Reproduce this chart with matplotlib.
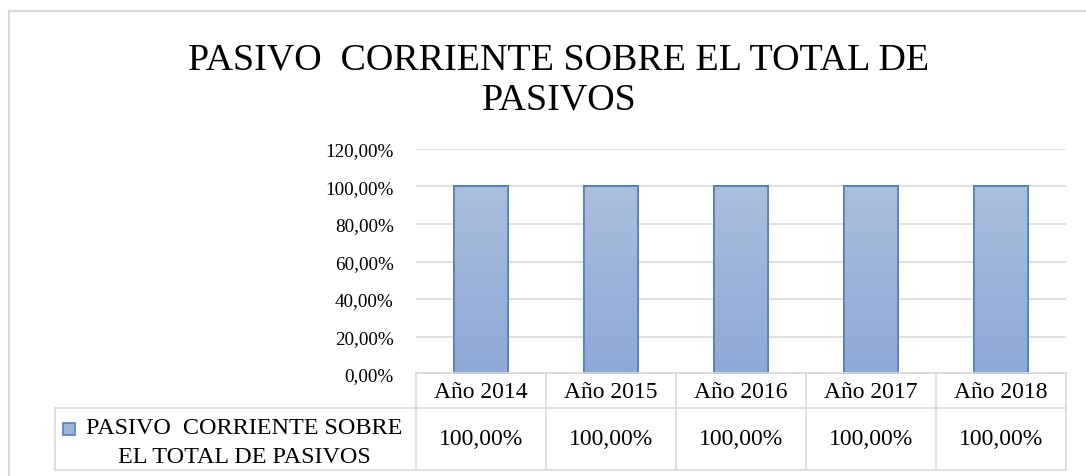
import numpy as np
import matplotlib
matplotlib.use("Agg")
import matplotlib.pyplot as plt
from matplotlib.patches import Rectangle
from matplotlib.lines import Line2D
from matplotlib.colors import LinearSegmentedColormap

# Data
categories = ['Año 2014', 'Año 2015', 'Año 2016', 'Año 2017', 'Año 2018']
values = [100.0, 100.0, 100.0, 100.0, 100.0]
series_name = 'PASIVO  CORRIENTE SOBRE\nEL TOTAL DE PASIVOS'
title = 'PASIVO  CORRIENTE SOBRE EL TOTAL DE\nPASIVOS'
yticks = [0, 20, 40, 60, 80, 100, 120]

plt.rcParams['font.family'] = ['Liberation Serif', 'DejaVu Serif']

W, H = 1086, 477
fig = plt.figure(figsize=(W / 100, H / 100), dpi=100)

def fx(px):
    return px / W

def fy(py):
    return 1 - py / H

grid_col = '#D9D9D9'

# plot area
left, right, top, bottom = 416, 1066, 150, 375
ax = fig.add_axes([fx(left), fy(bottom), fx(right) - fx(left), fy(top) - fy(bottom)])
x = np.arange(len(categories))
bars = ax.bar(x, values, width=0.41, facecolor='#9DB3D8', edgecolor='#4F81BD', linewidth=1.2, zorder=3)

# vertical gradient on bars
grad = np.linspace(0, 1, 256).reshape(-1, 1)
cmap = LinearSegmentedColormap.from_list('g', ['#8EA9D6', '#AABEDD'])
for b in bars:
    im = ax.imshow(grad, cmap=cmap, aspect='auto', origin='lower',
                   extent=[b.get_x(), b.get_x() + b.get_width(), 0, b.get_height()], zorder=3.5)
    im.set_clip_path(b)
    edge = Rectangle((b.get_x(), 0), b.get_width(), b.get_height(), fill=False,
                     edgecolor='#4F81BD', linewidth=1.2, zorder=4)
    ax.add_patch(edge)

ax.set_xlim(-0.5, len(categories) - 0.5)
ax.set_ylim(0, 120)
ax.set_yticks(yticks)
ax.set_yticklabels([f'{v:.2f}%'.replace('.', ',') for v in yticks], fontsize=13.8)
ax.tick_params(axis='y', length=0, pad=16)
ax.set_xticks([])
ax.yaxis.grid(True, color=grid_col, linewidth=1.2, zorder=0)
ax.set_axisbelow(True)
for s in ax.spines.values():
    s.set_visible(False)

# overlay axes in pixel coords for title, frame and data table
ov = fig.add_axes([0, 0, 1, 1], facecolor='none')
ov.set_xlim(0, W)
ov.set_ylim(H, 0)
ov.axis('off')

# chart frame (cut off at right and bottom)
ov.add_line(Line2D([9, 9], [12, H], color=grid_col, lw=1.5))
ov.add_line(Line2D([9, W], [12, 12], color=grid_col, lw=1.5))

ov.text(559, 80, title, ha='center', va='center', fontsize=27.4, linespacing=1.2)

# data table
col_w = (right - left) / len(categories)
t_top, t_mid, t_bot = 374, 409, 471
leg_left = 55
tfs = 17
ov.add_line(Line2D([left, right], [t_top, t_top], color=grid_col, lw=1.2))
ov.add_line(Line2D([leg_left, right], [t_mid, t_mid], color=grid_col, lw=1.2))
ov.add_line(Line2D([leg_left, right], [t_bot, t_bot], color=grid_col, lw=1.2))
ov.add_line(Line2D([leg_left, leg_left], [t_mid, t_bot], color=grid_col, lw=1.2))
for i in range(len(categories) + 1):
    xc = left + i * col_w
    ov.add_line(Line2D([xc, xc], [t_top, t_bot], color=grid_col, lw=1.2))
for i, (c, v) in enumerate(zip(categories, values)):
    xc = left + (i + 0.5) * col_w
    ov.text(xc, (t_top + t_mid) / 2 + 1, c, ha='center', va='center', fontsize=tfs)
    ov.text(xc, (t_mid + t_bot) / 2, f'{v:.2f}%'.replace('.', ','), ha='center', va='center', fontsize=tfs)

# legend key + series name
ov.add_patch(Rectangle((63, 424), 12, 12, facecolor='#9DB3D8', edgecolor='#4F81BD', lw=1.2))
ov.text(244, 443, series_name, ha='center', va='center', fontsize=17.4,
        multialignment='center', linespacing=1.5)

fig.savefig('out.png', dpi=100)
